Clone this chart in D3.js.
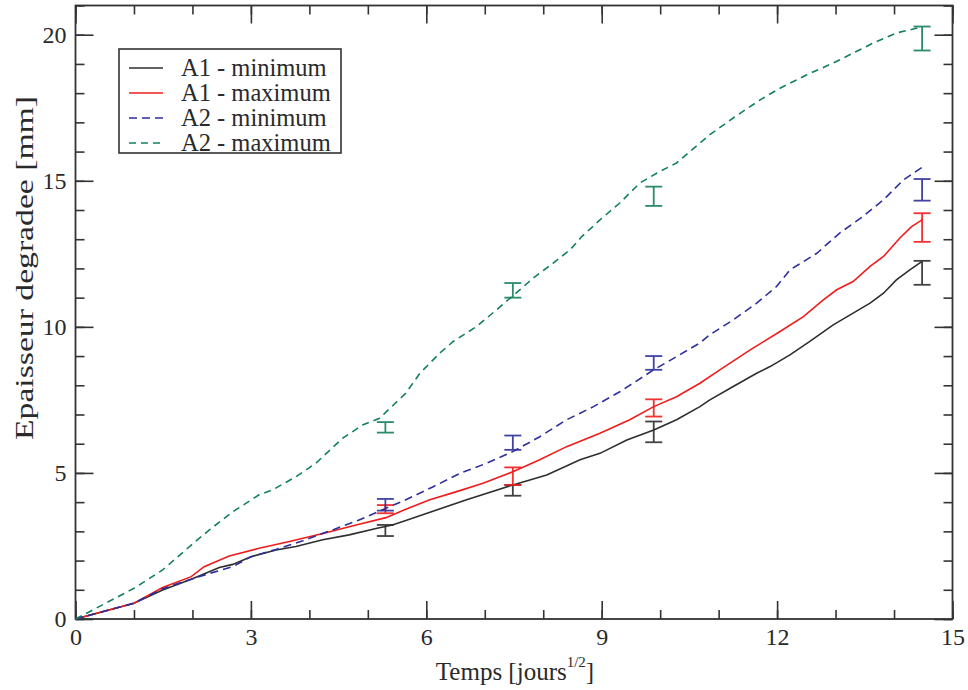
<!DOCTYPE html>
<html><head><meta charset="utf-8">
<script src="https://cdn.jsdelivr.net/npm/d3@7"></script>
<style>body{margin:0;background:#fff}</style>
</head><body>
<svg id="c" width="968" height="690"></svg>
<script>
// ---- data ----
const xTicks = [0, 3, 6, 9, 12, 15];
const yTicks = [0, 5, 10, 15, 20];
const seriesNames = ["A1 - minimum", "A1 - maximum", "A2 - minimum", "A2 - maximum"];

const xA1min = [0,1.0,1.49,1.98,2.46,2.69,3.0,3.43,3.77,4.23,4.68,5.14,5.42,5.65,6.1,6.69,7.48,8.06,8.63,8.97,9.43,9.89,10.28,10.68,10.85,11.25,11.65,11.88,12.22,12.56,12.96,13.25,13.59,13.82,14.04,14.27,14.48];
const yA1min = [0,0.54,0.99,1.36,1.76,1.87,2.13,2.36,2.48,2.71,2.88,3.1,3.22,3.37,3.68,4.08,4.59,4.93,5.45,5.67,6.13,6.47,6.82,7.27,7.5,7.96,8.41,8.64,9.04,9.5,10.07,10.41,10.81,11.15,11.61,11.95,12.24];

const xA1max = [0,1.0,1.49,1.98,2.2,2.63,3.14,3.66,4.23,4.8,5.31,5.65,6.06,6.52,6.97,7.48,7.94,8.4,8.97,9.48,9.89,10.28,10.68,11.02,11.54,12.05,12.45,12.79,13.02,13.3,13.59,13.82,14.1,14.3,14.48];
const yA1max = [0,0.54,1.08,1.45,1.79,2.16,2.42,2.65,2.93,3.22,3.47,3.76,4.08,4.36,4.65,5.04,5.45,5.9,6.36,6.82,7.27,7.61,8.07,8.53,9.21,9.84,10.35,10.92,11.27,11.55,12.07,12.41,13.04,13.43,13.66];

const xA2min = [0,1.0,1.49,1.98,2.29,2.69,3.0,3.43,3.89,4.4,4.85,5.31,5.65,6.12,6.58,7.03,7.48,7.94,8.4,8.86,9.31,9.89,10.28,10.68,10.85,11.25,11.65,11.99,12.22,12.68,13.07,13.47,13.82,14.16,14.48];
const yA2min = [0,0.54,1.04,1.36,1.56,1.79,2.13,2.38,2.68,3.05,3.39,3.79,4.08,4.53,4.99,5.33,5.73,6.24,6.82,7.27,7.78,8.53,8.98,9.45,9.73,10.24,10.81,11.38,11.95,12.52,13.21,13.78,14.35,15.03,15.46];

const xA2max = [0,1.0,1.49,1.98,2.29,2.69,3.14,3.37,3.77,4.11,4.57,4.91,5.2,5.42,5.65,5.89,6.23,6.46,6.86,7.2,7.48,7.83,8.17,8.46,8.66,8.97,9.31,9.65,9.94,10.28,10.51,10.85,11.25,11.71,12.05,12.51,12.96,13.3,13.65,14.04,14.47];
const yA2max = [0,1.05,1.68,2.53,3.05,3.67,4.25,4.42,4.87,5.33,6.19,6.64,6.87,7.29,7.73,8.41,9.1,9.5,10.01,10.58,11.06,11.67,12.18,12.64,13.09,13.66,14.24,14.92,15.26,15.61,16.0,16.58,17.15,17.77,18.17,18.63,19.03,19.37,19.72,20.06,20.26];

// experimental points (error bars): low / high
const xErr = [5.3, 7.48, 9.89, 14.48];
const loA1min = [2.84, 4.22, 6.05, 11.44], hiA1min = [3.22, 4.59, 6.76, 12.26];
const loA1max = [3.62, 4.59, 6.93, 12.91], hiA1max = [3.90, 5.19, 7.52, 13.89];
const loA2min = [3.71, 5.79, 8.53, 14.32], hiA2min = [4.11, 6.28, 9.00, 15.06];
const loA2max = [6.38, 11.00, 14.14, 19.46], hiA2max = [6.74, 11.50, 14.80, 20.28];

// ---- styles ----
const colors = ["#2e2e2e", "#f01c1c", "#2e2e9c", "#13805a"];
const dashes = [null, null, "8,5", "7,5"];
const FONT = '"Liberation Serif", "Times New Roman", serif';

const series = [
  {name: seriesNames[0], xs: xA1min, ys: yA1min, lo: loA1min, hi: hiA1min},
  {name: seriesNames[1], xs: xA1max, ys: yA1max, lo: loA1max, hi: hiA1max},
  {name: seriesNames[2], xs: xA2min, ys: yA2min, lo: loA2min, hi: hiA2min},
  {name: seriesNames[3], xs: xA2max, ys: yA2max, lo: loA2max, hi: hiA2max}
];

const svg = d3.select("#c");
const L = 75.5, R = 952.5, B = 619, T = 5.5;
const x = d3.scaleLinear().domain([0, 15]).range([L, R]);
const y = d3.scaleLinear().domain([0, 21]).range([B, T]);
const axisColor = "#333";

function styleAxis(g) {
  g.select(".domain").remove();
  g.selectAll(".tick line").attr("stroke", axisColor).attr("stroke-width", 1.6);
  g.selectAll("text").style("font-family", FONT).style("font-size", "24px").attr("fill", "#2a2a2a");
}
const minorX = d3.range(0, 16, 1), minorY = d3.range(0, 22, 1);

// bottom
svg.append("g").attr("transform", `translate(0,${B})`)
  .call(d3.axisBottom(x).tickValues(minorX).tickSize(-9).tickFormat(""))
  .call(styleAxis);
svg.append("g").attr("transform", `translate(0,${B})`)
  .call(d3.axisBottom(x).tickValues(xTicks).tickSize(-18).tickPadding(9).tickFormat(d3.format("d")))
  .call(styleAxis);
// top
svg.append("g").attr("transform", `translate(0,${T})`)
  .call(d3.axisTop(x).tickValues(minorX).tickSize(-9).tickFormat("")).call(styleAxis);
svg.append("g").attr("transform", `translate(0,${T})`)
  .call(d3.axisTop(x).tickValues(xTicks).tickSize(-18).tickFormat("")).call(styleAxis);
// left
svg.append("g").attr("transform", `translate(${L},0)`)
  .call(d3.axisLeft(y).tickValues(minorY).tickSize(-9).tickFormat(""))
  .call(styleAxis);
svg.append("g").attr("transform", `translate(${L},0)`)
  .call(d3.axisLeft(y).tickValues(yTicks).tickSize(-18).tickPadding(9).tickFormat(d3.format("d")))
  .call(styleAxis);
// right
svg.append("g").attr("transform", `translate(${R},0)`)
  .call(d3.axisRight(y).tickValues(minorY).tickSize(-9).tickFormat("")).call(styleAxis);
svg.append("g").attr("transform", `translate(${R},0)`)
  .call(d3.axisRight(y).tickValues(yTicks).tickSize(-18).tickFormat("")).call(styleAxis);

// frame
svg.append("rect").attr("x", L).attr("y", T).attr("width", R - L).attr("height", B - T)
  .attr("fill", "none").attr("stroke", axisColor).attr("stroke-width", 1.8);

// lines
const line = d3.line().x(d => x(d[0])).y(d => y(d[1]));
series.forEach((s, i) => {
  const pts = s.xs.map((v, k) => [v, s.ys[k]]);
  svg.append("path").attr("d", line(pts)).attr("fill", "none")
    .attr("stroke", colors[i]).attr("stroke-width", 1.6)
    .attr("stroke-dasharray", dashes[i]);
});

// error bars
const cap = 8.5;
series.forEach((s, i) => {
  const g = svg.append("g").attr("stroke", colors[i]).attr("stroke-width", 1.8).attr("opacity", 0.9);
  xErr.forEach((xv, k) => {
    const px = x(xv);
    g.append("line").attr("x1", px).attr("x2", px).attr("y1", y(s.lo[k])).attr("y2", y(s.hi[k]));
    g.append("line").attr("x1", px - cap).attr("x2", px + cap).attr("y1", y(s.lo[k])).attr("y2", y(s.lo[k]));
    g.append("line").attr("x1", px - cap).attr("x2", px + cap).attr("y1", y(s.hi[k])).attr("y2", y(s.hi[k]));
  });
});

// legend
const lg = svg.append("g");
lg.append("rect").attr("x", 119).attr("y", 49).attr("width", 222).attr("height", 104)
  .attr("fill", "#fff").attr("stroke", axisColor).attr("stroke-width", 1.6);
series.forEach((s, i) => {
  const yy = 68 + i * 25;
  lg.append("line").attr("x1", 129).attr("x2", 163).attr("y1", yy).attr("y2", yy)
    .attr("stroke", colors[i]).attr("stroke-width", 1.6).attr("stroke-dasharray", dashes[i]);
  lg.append("text").attr("x", 181).attr("y", yy + 8).text(s.name)
    .style("font-family", FONT).style("font-size", "24.5px").attr("fill", "#2a2a2a");
});

// axis titles
const xt = svg.append("text").attr("x", 515).attr("y", 680).attr("text-anchor", "middle")
  .style("font-family", FONT).style("font-size", "25px").attr("fill", "#2a2a2a");
xt.append("tspan").text("Temps [jours");
xt.append("tspan").text("1/2").style("font-size", "15px").attr("dy", -13);
xt.append("tspan").text("]").attr("dy", 13);

svg.append("text").attr("transform", "translate(33,268) rotate(-90)").attr("text-anchor", "middle")
  .style("font-family", FONT).style("font-size", "26px").attr("fill", "#2a2a2a")
  .attr("textLength", 344).attr("lengthAdjust", "spacingAndGlyphs")
  .text("Epaisseur degradee [mm]");
</script>
</body></html>
